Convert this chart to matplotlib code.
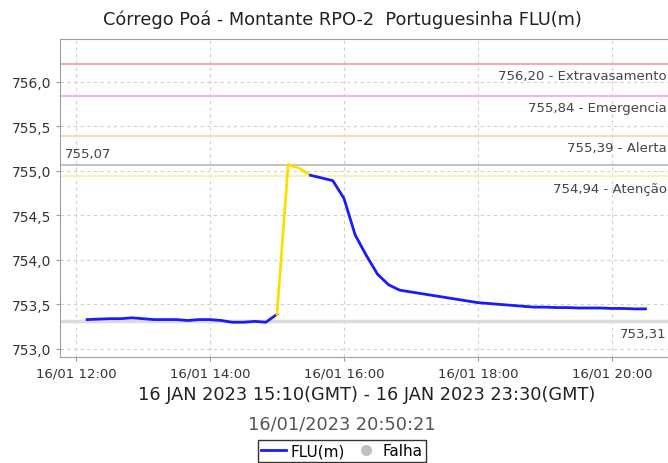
import matplotlib
matplotlib.use("Agg")
import matplotlib.pyplot as plt
import matplotlib.dates as mdates
from matplotlib.lines import Line2D
import pandas as pd

# ---------------- data ----------------
times = pd.date_range("2023-01-16 12:10", "2023-01-16 20:30", freq="10min")
levels = [
    753.33, 753.335, 753.34, 753.34, 753.35, 753.34, 753.33, 753.33, 753.33,
    753.32, 753.33, 753.33, 753.32, 753.30, 753.30, 753.31, 753.30, 753.39,
    755.07, 755.03, 754.95, 754.92, 754.89, 754.69, 754.28, 754.05, 753.84,
    753.72, 753.66, 753.64, 753.62, 753.60, 753.58, 753.56, 753.54, 753.52,
    753.51, 753.50, 753.49, 753.48, 753.47, 753.47, 753.465, 753.465, 753.46,
    753.46, 753.46, 753.455, 753.455, 753.45, 753.45,
]
# segment highlighted in yellow
yellow_start = pd.Timestamp("2023-01-16 15:00")
yellow_end = pd.Timestamp("2023-01-16 15:30")

thr_values = [756.20, 755.84, 755.39, 754.94]
thr_names = ["Extravasamento", "Emergencia", "Alerta", "Atenção"]
thr_colors = ["#ff9f9f", "#ffa3ff", "#ffd2a8", "#fff0a0"]

max_value = 755.07
min_value = 753.31

title = "Córrego Poá - Montante RPO-2  Portuguesinha FLU(m)"
xlabel = "16 JAN 2023 15:10(GMT) - 16 JAN 2023 23:30(GMT)"
stamp = "16/01/2023 20:50:21"
yticks = [753.0, 753.5, 754.0, 754.5, 755.0, 755.5, 756.0]

# ---------------- figure ----------------
W, H = 668, 464
fig = plt.figure(figsize=(W / 100, H / 100), dpi=100)
ax = fig.add_axes([60 / W, 106 / H, 615 / W, 318 / H])

s = pd.Series(levels, index=times)
blue1 = s[s.index <= yellow_start]
yel = s[(s.index >= yellow_start) & (s.index <= yellow_end)]
blue2 = s[s.index >= yellow_end]

# min / max reference lines
ax.axhline(min_value, color="#dcdcdc", lw=2.5, zorder=1)
ax.axhline(max_value, color="#b8b8b8", lw=1.2, zorder=1)
for v, c in zip(thr_values, thr_colors):
    ax.axhline(v, color=c, lw=1.3, zorder=1)

ax.plot(blue1.index, blue1.values, color="#1a1aff", lw=2, zorder=3, solid_joinstyle="round")
ax.plot(yel.index, yel.values, color="#ffdd00", lw=2, zorder=3, solid_joinstyle="round")
ax.plot(blue2.index, blue2.values, color="#1a1aff", lw=2, zorder=3, solid_joinstyle="round")

x0 = pd.Timestamp("2023-01-16 12:00")
ax.set_xlim(x0 - pd.Timedelta(minutes=14.3), x0 + pd.Timedelta(minutes=536.4))
ax.set_ylim(752.91, 756.48)

ax.set_yticks(yticks)
ax.set_yticklabels([f"{v:.1f}".replace(".", ",") for v in yticks])
ax.xaxis.set_major_locator(mdates.HourLocator(byhour=[12, 14, 16, 18, 20]))
ax.xaxis.set_major_formatter(mdates.DateFormatter("%d/%m %H:%M"))
ax.tick_params(axis="x", labelsize=9.5, colors="#333333", length=3, width=0.8)
ax.tick_params(axis="y", labelsize=10, colors="#333333", length=3, width=0.8)
ax.tick_params(axis="both", color="#999999")

ax.grid(True, color="#d0d0d0", ls=(0, (3, 3)), lw=0.8)
ax.set_axisbelow(True)
for side in ["left", "bottom", "top"]:
    ax.spines[side].set_color("#a0a0a0")
ax.spines["right"].set_visible(False)

# threshold labels (right edge kept inside the picture)
trans = ax.get_yaxis_transform()
xr = (667 - 60) / 615
for v, n in zip(thr_values, thr_names):
    ax.text(xr, v - 0.06, f"{v:.2f}".replace(".", ",") + " - " + n,
            transform=trans, ha="right", va="top", fontsize=9.5, color="#444444")
ax.text(0.008, max_value + 0.05, f"{max_value:.2f}".replace(".", ","),
        transform=trans, ha="left", va="bottom", fontsize=9.5, color="#444444")
ax.text(xr, min_value - 0.06, f"{min_value:.2f}".replace(".", ","),
        transform=trans, ha="right", va="top", fontsize=9.5, color="#444444")

fig.text(342 / W, 1 - 20 / H, title, ha="center", va="center", fontsize=12.8, color="#222222")
fig.text(367 / W, 1 - 395 / H, xlabel, ha="center", va="center", fontsize=12.8, color="#222222")
fig.text(342 / W, 1 - 425 / H, stamp, ha="center", va="center", fontsize=12.8, color="#555555")

handles = [
    Line2D([], [], color="#1a1aff", lw=2),
    Line2D([], [], color="#c0c0c0", marker="o", ls="none", markersize=7),
]
leg = fig.legend(handles, ["FLU(m)", "Falha"], loc="center", bbox_to_anchor=(342 / W, 1 - 452 / H),
                 ncol=2, fontsize=11, frameon=True, fancybox=False, handlelength=1.6,
                 handletextpad=0.3, columnspacing=0.6, borderpad=0.2, borderaxespad=0)
leg.get_frame().set_edgecolor("#000000")
leg.get_frame().set_linewidth(1.0)

fig.savefig("out.png", dpi=100)
